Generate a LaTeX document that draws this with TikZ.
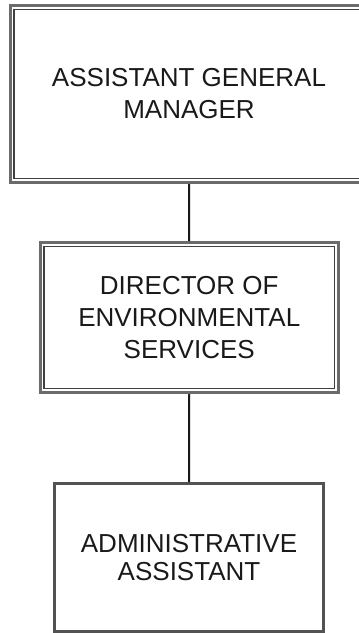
\documentclass[tikz,border=0pt]{standalone}
\usepackage{fontspec}
\setmainfont{Liberation Sans}
\usepackage{tikz}
\usetikzlibrary{positioning}

\begin{document}
\begin{tikzpicture}[
    x=1pt,y=-1pt,
    font=\fontsize{26}{32}\selectfont,
    post/.style={rectangle,draw=black!58,line width=3pt,inner sep=0pt,align=center,text=black!90},
    frame in/.style={draw=black!75,line width=1.3pt},
    plain post/.style={rectangle,draw=black!68,line width=2.6pt,inner sep=0pt,align=center,text=black!90},
    link/.style={draw=black!90,line width=2pt}
]
    \useasboundingbox (0,0) rectangle (359,633);

    % Chart boxes, top to bottom.
    \node[post,minimum width=358pt,minimum height=177pt] (agm) at (189,94)
        {ASSISTANT GENERAL\\MANAGER};
    \node[post,minimum width=298.5pt,minimum height=150pt] (des) at (189.25,317.5)
        {DIRECTOR OF\\ENVIRONMENTAL\\SERVICES};
    \node[plain post,minimum width=269pt,minimum height=148pt,
          font=\fontsize{26}{28.5}\selectfont] (aa) at (189,557.5)
        {ADMINISTRATIVE\\ASSISTANT};

    % Inner lines of the double frames.
    \draw[frame in] ([shift={(5.5,5.5)}]agm.north west) rectangle ([shift={(-5.5,-5.5)}]agm.south east);
    \draw[frame in] ([shift={(5.5,5.5)}]des.north west) rectangle ([shift={(-5.5,-5.5)}]des.south east);

    \draw[link] (agm.south) -- (des.north);
    \draw[link] (des.south) -- (aa.north);
\end{tikzpicture}
\end{document}
